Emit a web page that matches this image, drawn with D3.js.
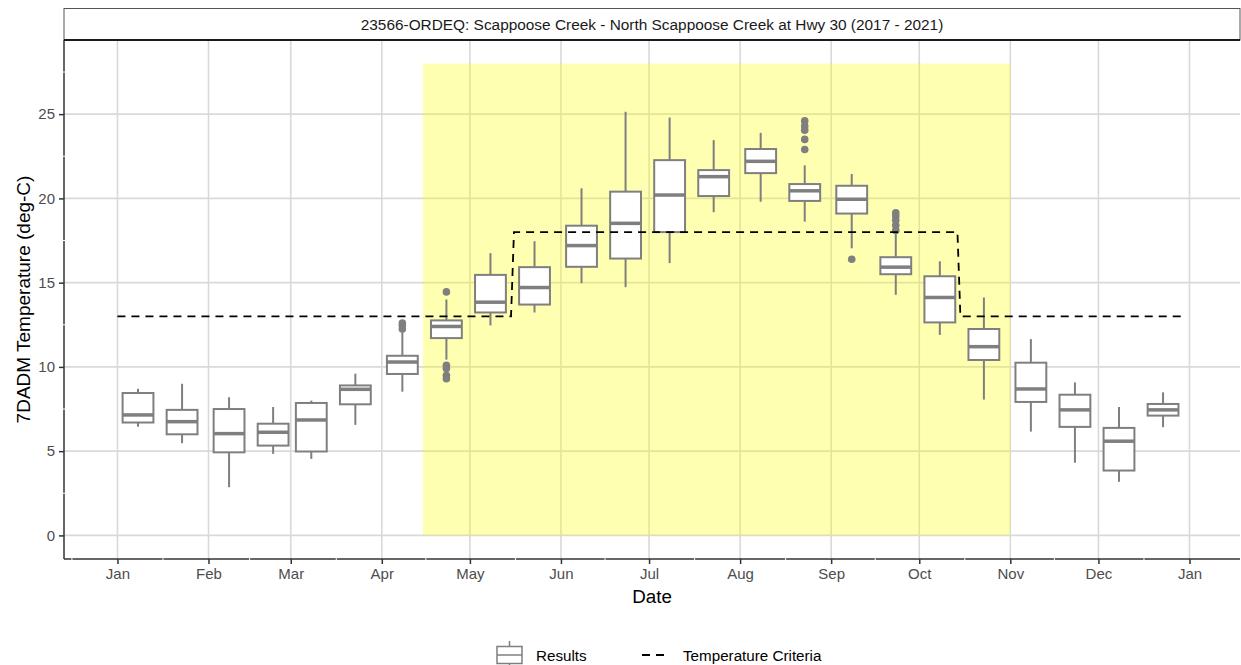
<!DOCTYPE html>
<html lang="en">
<head>
    <meta charset="UTF-8">
    <title>7DADM Temperature</title>
    <style>
        body { margin: 0; background: #fff; }
        text { font-family: "Liberation Sans", Arial, sans-serif; }
    </style>
</head>
<body>
<script src="https://cdn.jsdelivr.net/npm/d3@7"></script>
<script>

    var stripTitle = "23566-ORDEQ: Scappoose Creek - North Scappoose Creek at Hwy 30 (2017 - 2021)";

    // one box every half month
    var boxDates = ["2021-01-08", "2021-01-23", "2021-02-08", "2021-02-23", "2021-03-08", "2021-03-23",
        "2021-04-08", "2021-04-23", "2021-05-08", "2021-05-23", "2021-06-08", "2021-06-23",
        "2021-07-08", "2021-07-23", "2021-08-08", "2021-08-23", "2021-09-08", "2021-09-23",
        "2021-10-08", "2021-10-23", "2021-11-08", "2021-11-23", "2021-12-08", "2021-12-23"];
    var whiskerLow = [6.45, 5.47, 2.86, 4.84, 4.54, 6.56, 8.53, 10.43, 12.46, 13.23, 14.97, 14.73,
        16.16, 19.18, 19.8, 18.62, 17.04, 14.28, 11.9, 8.06, 6.16, 4.31, 3.18, 6.42];
    var q1 = [6.7, 6.0, 4.93, 5.33, 4.98, 7.78, 9.58, 11.71, 13.23, 13.7, 15.94, 16.43,
        18.0, 20.14, 21.5, 19.85, 19.1, 15.5, 12.64, 10.41, 7.92, 6.44, 3.85, 7.11];
    var median = [7.15, 6.75, 6.04, 6.12, 6.85, 8.67, 10.29, 12.4, 13.84, 14.71, 17.2, 18.52,
        20.2, 21.29, 22.2, 20.45, 19.95, 15.92, 14.12, 11.2, 8.69, 7.45, 5.59, 7.45];
    var q3 = [8.45, 7.45, 7.5, 6.63, 7.86, 8.9, 10.66, 12.76, 15.46, 15.92, 18.38, 20.4,
        22.27, 21.68, 22.93, 20.85, 20.75, 16.51, 15.38, 12.25, 10.25, 8.35, 6.38, 7.8];
    var whiskerHigh = [8.7, 9.0, 8.2, 7.62, 8.0, 9.6, 12.1, 14.0, 16.75, 17.46, 20.6, 25.14,
        24.8, 23.46, 23.89, 21.96, 21.45, 17.9, 16.27, 14.12, 11.65, 9.08, 7.62, 8.49];
    var outliers = [[], [], [], [], [], [],
        [12.25, 12.45, 12.6], [14.45, 10.1, 9.9, 9.5, 9.3], [], [], [], [],
        [], [], [], [22.9, 23.5, 24.05, 24.3, 24.6], [16.39], [18.1, 18.4, 18.7, 18.95, 19.15],
        [], [], [], [], [], []];

    var criteriaDates = ["2021-01-01", "2021-05-15", "2021-05-16", "2021-10-14", "2021-10-15", "2021-12-31"];
    var criteriaValues = [13, 13, 18, 18, 13, 13];

    // spawning period shading
    var spawnDates = ["2021-04-15", "2021-11-01"];
    var spawnTop = 28;

    var yTicks = [0, 5, 10, 15, 20, 25];
    var yMinor = [2.5, 7.5, 12.5, 17.5, 22.5, 27.5];
    var monthTicks = ["2021-01-01", "2021-02-01", "2021-03-01", "2021-04-01", "2021-05-01", "2021-06-01",
        "2021-07-01", "2021-08-01", "2021-09-01", "2021-10-01", "2021-11-01", "2021-12-01", "2022-01-01"];

    var parse = d3.timeParse("%Y-%m-%d");

    var width = 1241, height = 665;
    var pLeft = 64, pRight = 1240, pTop = 40, pBottom = 559;

    var svg = d3.select("body").append("svg")
        .attr("width", width)
        .attr("height", height);

    // scales, ggplot style 5% expansion
    var xData = [parse("2021-01-01"), parse("2021-12-31")];
    var xPad = (xData[1] - xData[0]) * 0.05;
    var x = d3.scaleTime()
        .domain([new Date(+xData[0] - xPad), new Date(+xData[1] + xPad)])
        .range([pLeft, pRight]);

    var yPad = (spawnTop - 0) * 0.05;
    var y = d3.scaleLinear()
        .domain([0 - yPad, spawnTop + yPad])
        .range([pBottom, pTop]);

    //grid
    var gGrid = svg.append("g");
    gGrid.selectAll(".hgrid")
        .data(yTicks)
        .enter().append("line")
        .attr("x1", pLeft).attr("x2", pRight)
        .attr("y1", function(d){ return y(d); })
        .attr("y2", function(d){ return y(d); })
        .style("stroke", "#d9d9d9")
        .style("stroke-width", 1.6);
    gGrid.selectAll(".vgrid")
        .data(monthTicks)
        .enter().append("line")
        .attr("y1", pTop).attr("y2", pBottom)
        .attr("x1", function(d){ return x(parse(d)); })
        .attr("x2", function(d){ return x(parse(d)); })
        .style("stroke", "#d9d9d9")
        .style("stroke-width", 1.6);

    // shaded period
    svg.append("rect")
        .attr("x", x(parse(spawnDates[0])))
        .attr("width", x(parse(spawnDates[1])) - x(parse(spawnDates[0])))
        .attr("y", y(spawnTop))
        .attr("height", y(0) - y(spawnTop))
        .style("fill", "#ffff00")
        .style("opacity", 0.3);

    //boxes
    var boxColor = "#7f7f7f";
    var halfW = (x(parse("2021-01-11")) - x(parse("2021-01-01"))) * 0.525;
    var gBox = svg.append("g");
    boxDates.forEach(function(d, i){
        var cx = x(parse(d));
        var g = gBox.append("g");
        g.append("line")
            .attr("x1", cx).attr("x2", cx)
            .attr("y1", y(q3[i])).attr("y2", y(whiskerHigh[i]))
            .style("stroke", boxColor).style("stroke-width", 2);
        g.append("line")
            .attr("x1", cx).attr("x2", cx)
            .attr("y1", y(q1[i])).attr("y2", y(whiskerLow[i]))
            .style("stroke", boxColor).style("stroke-width", 2);
        g.append("rect")
            .attr("x", cx - halfW)
            .attr("width", halfW * 2)
            .attr("y", y(q3[i]))
            .attr("height", y(q1[i]) - y(q3[i]))
            .style("fill", "#fff")
            .style("stroke", boxColor)
            .style("stroke-width", 2);
        g.append("line")
            .attr("x1", cx - halfW).attr("x2", cx + halfW)
            .attr("y1", y(median[i])).attr("y2", y(median[i]))
            .style("stroke", boxColor).style("stroke-width", 3.5);
        g.selectAll("circle")
            .data(outliers[i])
            .enter().append("circle")
            .attr("cx", cx)
            .attr("cy", function(v){ return y(v); })
            .attr("r", 3.8)
            .style("fill", boxColor);
    });

    // criteria line
    var line = d3.line()
        .x(function(d, i){ return x(parse(criteriaDates[i])); })
        .y(function(d){ return y(d); });
    svg.append("path")
        .datum(criteriaValues)
        .attr("d", line)
        .style("fill", "none")
        .style("stroke", "#000")
        .style("stroke-width", 1.8)
        .style("stroke-dasharray", "8,6");

    //Axis
    var xAxis = d3.axisBottom(x)
        .tickValues(monthTicks.map(parse))
        .tickFormat(d3.timeFormat("%b"))
        .tickSize(5)
        .tickPadding(4);
    var yAxis = d3.axisLeft(y)
        .tickValues(yTicks)
        .tickSize(5)
        .tickPadding(4);

    var gx = svg.append("g")
        .attr("transform", "translate(0," + pBottom + ")")
        .call(xAxis);
    var gy = svg.append("g")
        .attr("transform", "translate(" + pLeft + ",0)")
        .call(yAxis);
    [gx, gy].forEach(function(g){
        g.select(".domain").remove();
        g.selectAll(".tick line").style("stroke", "#333").style("stroke-width", 1.5);
        g.selectAll(".tick text")
            .style("fill", "#4d4d4d")
            .style("font-size", "15px")
            .style("font-family", "'Liberation Sans', Arial, sans-serif");
    });

    svg.append("line")
        .attr("x1", pLeft).attr("x2", pLeft)
        .attr("y1", pTop).attr("y2", pBottom)
        .style("stroke", "#333").style("stroke-width", 1.5);
    svg.append("line")
        .attr("x1", pLeft).attr("x2", pRight)
        .attr("y1", pBottom).attr("y2", pBottom)
        .style("stroke", "#333").style("stroke-width", 1.5);

    // little minor grid gaps on the axis lines
    var xMinor = [];
    for (var m = 0; m < monthTicks.length - 1; m++) {
        xMinor.push(new Date((+parse(monthTicks[m]) + +parse(monthTicks[m + 1])) / 2));
    }
    xMinor.unshift(new Date(+parse(monthTicks[0]) - 15.5 * 864e5));
    svg.selectAll(".xminor")
        .data(xMinor)
        .enter().append("line")
        .attr("x1", function(d){ return x(d); })
        .attr("x2", function(d){ return x(d); })
        .attr("y1", pBottom - 1.5).attr("y2", pBottom + 1.5)
        .style("stroke", "#fff").style("stroke-width", 1);
    svg.selectAll(".yminor")
        .data(yMinor)
        .enter().append("line")
        .attr("y1", function(d){ return y(d); })
        .attr("y2", function(d){ return y(d); })
        .attr("x1", pLeft - 1.5).attr("x2", pLeft + 1.5)
        .style("stroke", "#fff").style("stroke-width", 1);

    // strip
    svg.append("rect")
        .attr("x", pLeft).attr("y", 8.5)
        .attr("width", pRight - pLeft).attr("height", pTop - 8.5)
        .style("fill", "#fff")
        .style("stroke", "#555")
        .style("stroke-width", 1);
    svg.append("line")
        .attr("x1", pLeft).attr("x2", pRight)
        .attr("y1", pTop).attr("y2", pTop)
        .style("stroke", "#1a1a1a").style("stroke-width", 2);
    svg.append("text")
        .attr("x", (pLeft + pRight) / 2)
        .attr("y", 29.5)
        .attr("text-anchor", "middle")
        .style("font-size", "15.4px")
        .style("fill", "#1a1a1a")
        .text(stripTitle);

    // titles
    svg.append("text")
        .attr("x", (pLeft + pRight) / 2)
        .attr("y", 603)
        .attr("text-anchor", "middle")
        .style("font-size", "18.8px")
        .style("fill", "#000")
        .text("Date");
    svg.append("text")
        .attr("transform", "translate(30," + ((pTop + pBottom) / 2) + ") rotate(-90)")
        .attr("text-anchor", "middle")
        .style("font-size", "19px")
        .style("fill", "#000")
        .text("7DADM Temperature (deg-C)");

    // legend
    var gLeg = svg.append("g").attr("transform", "translate(0,655)");
    gLeg.append("line")
        .attr("x1", 509.5).attr("x2", 509.5).attr("y1", -14).attr("y2", 14)
        .style("stroke", boxColor).style("stroke-width", 1.5);
    gLeg.append("rect")
        .attr("x", 497).attr("y", -8.5).attr("width", 25).attr("height", 17)
        .style("fill", "#fff").style("stroke", boxColor).style("stroke-width", 1.5);
    gLeg.append("line")
        .attr("x1", 497).attr("x2", 522).attr("y1", 0).attr("y2", 0)
        .style("stroke", boxColor).style("stroke-width", 1.5);
    gLeg.append("text")
        .attr("x", 536).attr("y", 5.5)
        .style("font-size", "15.2px")
        .style("fill", "#000")
        .text("Results");
    gLeg.append("line")
        .attr("x1", 642).attr("x2", 667).attr("y1", 0).attr("y2", 0)
        .style("stroke", "#000").style("stroke-width", 1.8)
        .style("stroke-dasharray", "8,6");
    gLeg.append("text")
        .attr("x", 683).attr("y", 5.5)
        .style("font-size", "15.2px")
        .style("fill", "#000")
        .text("Temperature Criteria");

</script>
</body>
</html>
